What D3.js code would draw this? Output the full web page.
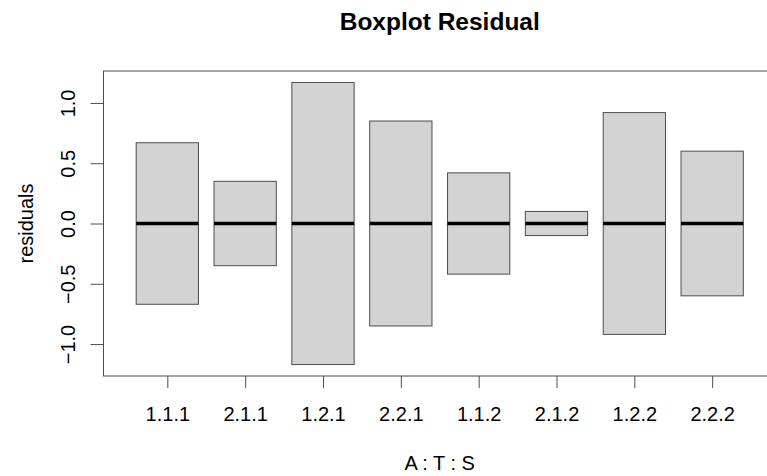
<!DOCTYPE html>
<html>
<head>
<meta charset="utf-8">
<script src="https://cdn.jsdelivr.net/npm/d3@7"></script>
<style>
  body { margin: 0; background: #fff; }
  text { font-family: "Liberation Sans", Arial, sans-serif; fill: #000; }
</style>
</head>
<body>
<div id="plot"></div>
<script>
// groups on the x axis (A : T : S)
const groups = ["1.1.1", "2.1.1", "1.2.1", "2.2.1", "1.1.2", "2.1.2", "1.2.2", "2.2.2"];
// lower hinge, median, upper hinge of the residuals
const lower  = [-0.67, -0.35, -1.17, -0.85, -0.42, -0.10, -0.92, -0.60];
const median = [0, 0, 0, 0, 0, 0, 0, 0];
const upper  = [0.67, 0.35, 1.17, 0.85, 0.42, 0.10, 0.92, 0.60];
const yTicks = [-1.0, -0.5, 0.0, 0.5, 1.0];

const data = groups.map((g, i) => ({group: g, pos: i + 1, lo: lower[i], med: median[i], hi: upper[i]}));

const W = 767, H = 476;
const margin = {top: 71, right: -9, bottom: 100, left: 103.5};
const width = W - margin.left - margin.right,
height = H - margin.top - margin.bottom;

const svg = d3.select("#plot")
.append("svg")
.attr("width", W)
.attr("height", H)
.append("g")
.attr("transform", `translate(${margin.left},${margin.top})`);

// R style: xlim = c(0.5, n + 0.5) expanded by 4%
const x = d3.scaleLinear()
.domain([0.18, 8.82])
.range([0, width]);

const y = d3.scaleLinear()
.domain([-1.265, 1.265])
.range([height, 0]);

const boxW = 0.8 * (x(2) - x(1));

// boxes
svg.selectAll("rect.box")
.data(data)
.join("rect")
.attr("class", "box")
.attr("x", d => x(d.pos) - boxW / 2)
.attr("y", d => y(d.hi))
.attr("width", boxW)
.attr("height", d => y(d.lo) - y(d.hi))
.attr("fill", "#d3d3d3")
.attr("stroke", "#4d4d4d")
.attr("stroke-width", 1);

// medians
svg.selectAll("line.med")
.data(data)
.join("line")
.attr("class", "med")
.attr("x1", d => x(d.pos) - boxW / 2)
.attr("x2", d => x(d.pos) + boxW / 2)
.attr("y1", d => y(d.med))
.attr("y2", d => y(d.med))
.attr("stroke", "#000")
.attr("stroke-width", 3.5);

// plot frame
svg.append("rect")
.attr("x", 0)
.attr("y", 0)
.attr("width", width)
.attr("height", height)
.attr("fill", "none")
.attr("stroke", "#4d4d4d")
.attr("stroke-width", 1);

// x axis
const xAxis = svg.append("g")
.attr("transform", `translate(0, ${height})`)
.call(d3.axisBottom(x).tickValues(data.map(d => d.pos)).tickFormat((d, i) => groups[i]).tickSize(12).tickPadding(19));
xAxis.select(".domain").remove();
xAxis.selectAll("line").attr("stroke", "#4d4d4d");
xAxis.selectAll("text")
.style("font-size", "20px")
.style("font-family", "'Liberation Sans', Arial, sans-serif")
.attr("fill", "#000");

// y axis, labels rotated like R (las = 0)
const yAxis = svg.append("g")
.call(d3.axisLeft(y).tickValues(yTicks).tickFormat(d3.format(".1f")).tickSize(13));
yAxis.select(".domain").remove();
yAxis.selectAll("line").attr("stroke", "#4d4d4d");
yAxis.selectAll("text")
.attr("x", null)
.attr("dy", null)
.attr("transform", "translate(-29,0) rotate(-90)")
.attr("text-anchor", "middle")
.style("font-size", "20px")
.style("font-family", "'Liberation Sans', Arial, sans-serif")
.attr("fill", "#000");

// title
svg.append("text")
.attr("x", width / 2)
.attr("y", 30 - margin.top)
.attr("text-anchor", "middle")
.style("font-size", "24.5px")
.style("font-weight", "bold")
.text("Boxplot Residual");

// axis titles
svg.append("text")
.attr("x", width / 2)
.attr("y", 470 - margin.top)
.attr("text-anchor", "middle")
.style("font-size", "20px")
.text("A : T : S");

svg.append("text")
.attr("transform", `translate(${33 - margin.left}, ${height / 2}) rotate(-90)`)
.attr("text-anchor", "middle")
.style("font-size", "20px")
.text("residuals");
</script>
</body>
</html>
